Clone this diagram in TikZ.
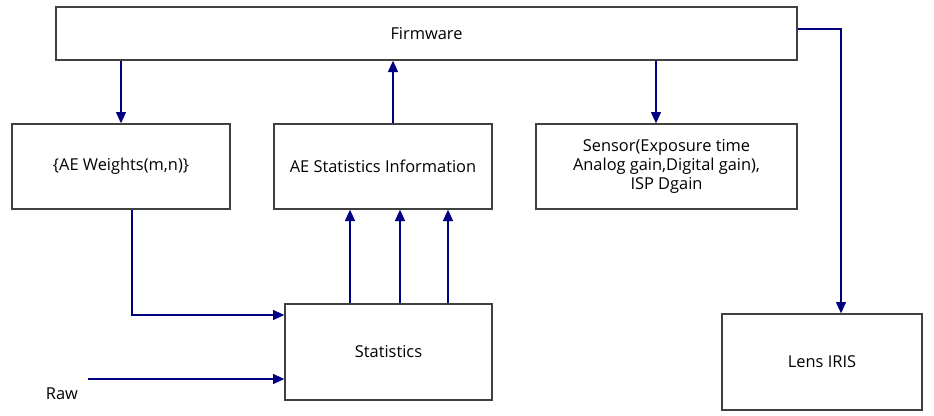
\documentclass[tikz,border=0pt]{standalone}
\usepackage{fontspec}
\setmainfont{Open Sans}
\usetikzlibrary{arrows.meta}
\newcommand{\px}{0.75pt}

\begin{document}
\begin{tikzpicture}[x=0.75pt,y=-0.75pt,
    box/.style={draw=black!75,line width=1pt,fill=white,align=center,
      font=\fontsize{12.3}{14.25}\selectfont,inner sep=0pt},
    arr/.style={draw=blue!50!black,line width=1pt,-{Triangle[length=8.5pt,width=7.5pt]}}]
  \useasboundingbox (0,0) rectangle (934,415);

  % Boxes
  \node[box,minimum width=741*\px,minimum height=53*\px] (fw) at (426.5,33.5) {Firmware};
  \node[box,minimum width=218*\px,minimum height=85*\px] (aew) at (121,166.5) {\{AE Weights(m,n)\}};
  \node[box,minimum width=218*\px,minimum height=85*\px] (aes) at (383,166.5) {AE Statistics Information};
  \node[box,minimum width=261*\px,minimum height=85*\px] (sensor) at (666.5,166.5)
    {Sensor(Exposure time\\Analog gain,Digital gain),\\ISP Dgain};
  \node[box,minimum width=207*\px,minimum height=96*\px] (stat) at (388.5,352) {Statistics};
  \node[box,minimum width=200*\px,minimum height=96*\px] (lens) at (822,362) {Lens IRIS};

  % Raw input
  \node[font=\fontsize{12.3}{14}\selectfont] (raw) at (62,394) {Raw};
  \coordinate (rawin) at (88,379);

  % Arrows from firmware
  \draw[arr] (fw.south -| aew.north) -- (aew.north);
  \draw[arr] ([xshift=-10.5*\px]sensor.north |- fw.south) -- ([xshift=-10.5*\px]sensor.north);
  \draw[arr] ([yshift=4.5*\px]fw.east) -| ([xshift=19*\px]lens.north);

  % Arrows to firmware
  \draw[arr] ([xshift=10*\px]aes.north) -- ([xshift=10*\px]aes.north |- fw.south);
  \foreach \dx in {-38.5,11.5,59.5}
    \draw[arr] ([xshift=\dx*\px]stat.north) -- ([xshift=\dx*\px]stat.north |- aes.south);

  % Inputs of statistics
  \draw[arr] ([xshift=11*\px]aew.south) |- ([yshift=37*\px]stat.west);
  \draw[arr] (rawin) -- (rawin -| stat.west);
\end{tikzpicture}
\end{document}
